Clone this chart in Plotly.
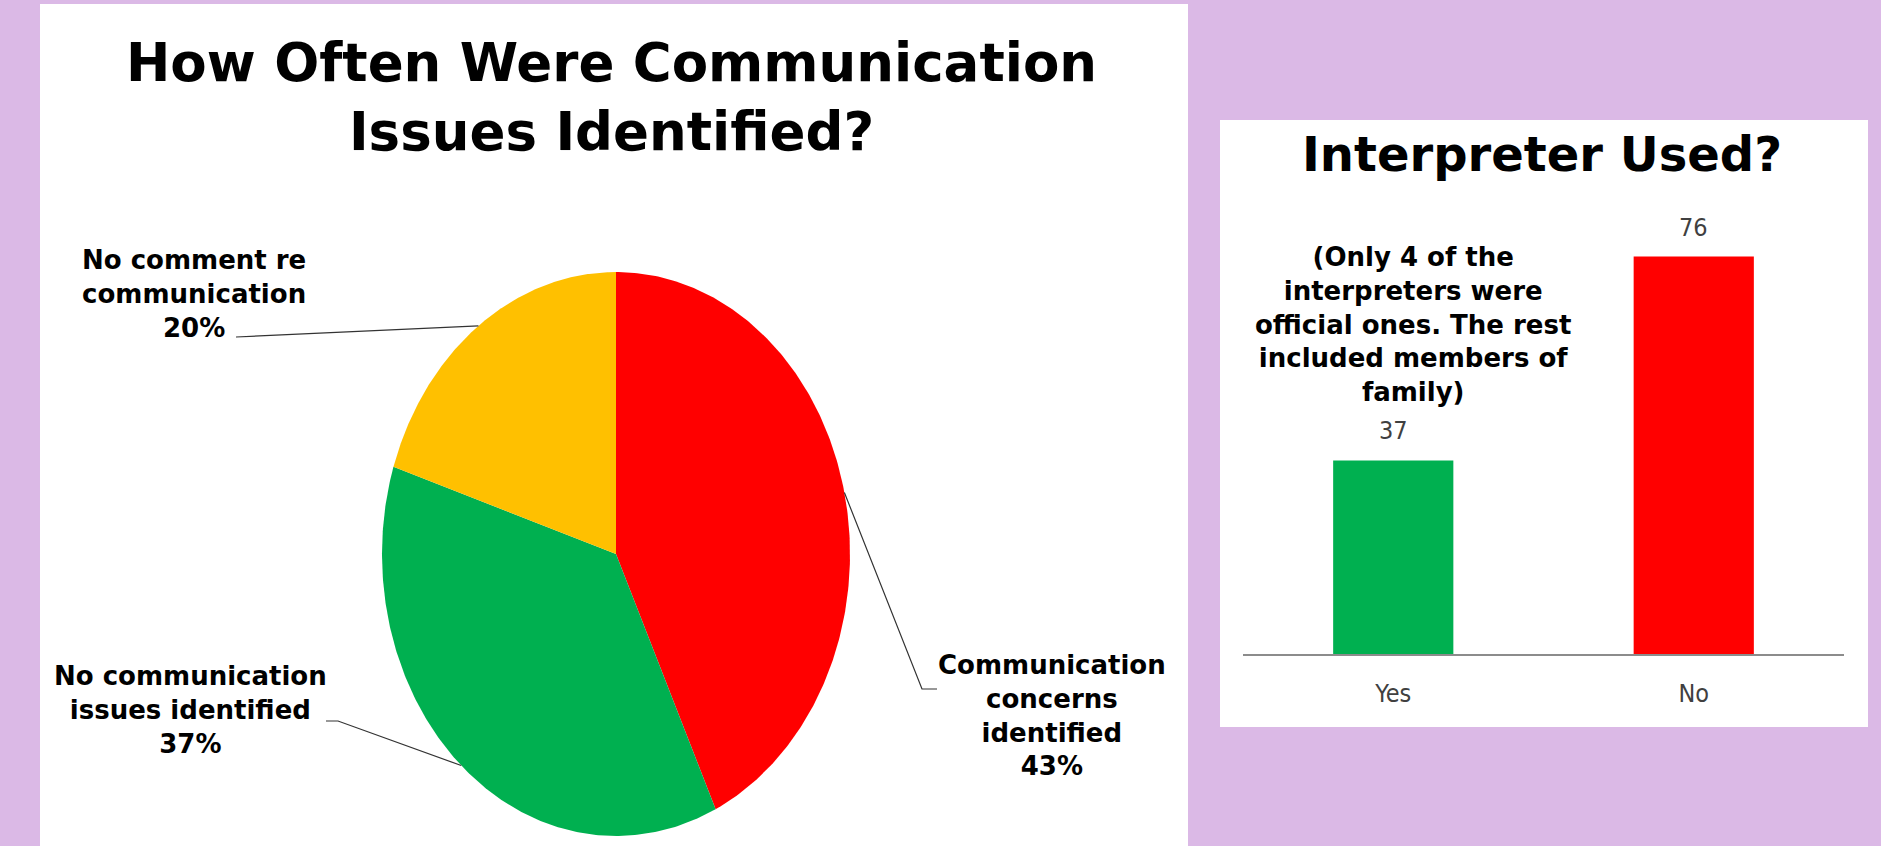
import numpy as np
import plotly.graph_objects as go

# ---- data ----
pie_labels = ["Communication<br>concerns<br>identified",
              "No communication<br>issues identified",
              "No comment re<br>communication"]
pie_pct = [43, 37, 20]
pie_colors = ["#FF0000", "#00B050", "#FFC000"]

bar_cats = ["Yes", "No"]
bar_vals = [37, 76]
bar_colors = ["#00B050", "#FF0000"]

W, H = 1881, 846
BG = "#DBB9E6"
BOLD = "DejaVu Sans"
NARROW = "Liberation Sans Narrow, DejaVu Sans Condensed, sans-serif"

# pie geometry (pixel-space axis), drawn as an ellipse
CX, CY, RX, RY = 616, 554, 234, 282


def px(x):
    return x / W


def py(y):
    return 1 - y / H


def edge(theta_deg):
    t = np.radians(theta_deg)
    return CX + RX * np.sin(t), CY - RY * np.cos(t)


fig = go.Figure()

# pie slices, clockwise from 12 o'clock
start = 0.0
mids = []
for lab, pct, col in zip(pie_labels, pie_pct, pie_colors):
    sweep = 360.0 * pct / sum(pie_pct)
    th = np.linspace(start, start + sweep, 240)
    t = np.radians(th)
    xs = np.concatenate([[CX], CX + RX * np.sin(t), [CX]])
    ys = np.concatenate([[CY], CY - RY * np.cos(t), [CY]])
    fig.add_trace(go.Scatter(x=xs, y=ys, fill="toself", fillcolor=col,
                             mode="lines", line=dict(width=0, color=col),
                             hoverinfo="skip", showlegend=False,
                             xaxis="x", yaxis="y"))
    mids.append(start + sweep / 2)
    start += sweep

# leader lines: from each slice's mid-angle on the rim to its label
label_pos = [(1052, 715), (190, 710), (194, 294)]
leader_tail = [[(922, 689), (937, 689)],
               [(338, 721), (326, 721)],
               [(236, 337)]]
for m, tail in zip(mids, leader_tail):
    ex, ey = edge(m)
    xs = [ex] + [p[0] for p in tail]
    ys = [ey] + [p[1] for p in tail]
    fig.add_trace(go.Scatter(x=xs, y=ys, mode="lines",
                             line=dict(color="#333333", width=1.2),
                             hoverinfo="skip", showlegend=False,
                             xaxis="x", yaxis="y"))

# bar chart
fig.add_trace(go.Bar(x=bar_cats, y=bar_vals, marker=dict(color=bar_colors, line=dict(width=0)),
                     width=0.4, hoverinfo="skip", showlegend=False,
                     xaxis="x2", yaxis="y2"))

annotations = []
# pie labels
for lab, pct, (lx, ly) in zip(pie_labels, pie_pct, label_pos):
    annotations.append(dict(x=px(lx), y=py(ly), xref="paper", yref="paper",
                            text=f"{lab}<br>{pct}%", showarrow=False,
                            xanchor="center", yanchor="middle", align="center",
                            font=dict(family=BOLD, size=26, color="#000000", weight="bold")))
# bar value labels
for c, v in zip(bar_cats, bar_vals):
    annotations.append(dict(x=c, y=v, xref="x2", yref="y2", text=str(v),
                            showarrow=False, yanchor="bottom", yshift=13,
                            font=dict(family=NARROW, size=25, color="#404040")))
# titles and note
annotations += [
    dict(x=px(611), y=py(97), xref="paper", yref="paper",
         text="How Often Were Communication<br>Issues Identified?", showarrow=False,
         xanchor="center", yanchor="middle", align="center",
         font=dict(family=BOLD, size=53, color="#000000", weight="bold")),
    dict(x=px(1542), y=py(154), xref="paper", yref="paper",
         text="Interpreter Used?", showarrow=False,
         xanchor="center", yanchor="middle",
         font=dict(family=BOLD, size=48, color="#000000", weight="bold")),
    dict(x=px(1413), y=py(324), xref="paper", yref="paper",
         text="(Only 4 of the<br>interpreters were<br>official ones. The rest<br>included members of<br>family)",
         showarrow=False, xanchor="center", yanchor="middle", align="center",
         font=dict(family=BOLD, size=26, color="#000000", weight="bold")),
]

shapes = [
    dict(type="rect", xref="paper", yref="paper", x0=px(40), x1=px(1188), y0=0, y1=py(4),
         fillcolor="white", line=dict(width=0), layer="below"),
    dict(type="rect", xref="paper", yref="paper", x0=px(1220), x1=px(1868), y0=py(727), y1=py(120),
         fillcolor="white", line=dict(width=0), layer="below"),
]

base_px = 654
ppu = 5.23
ymax = 90
fig.update_layout(
    width=W, height=H, margin=dict(l=0, r=0, t=0, b=0),
    paper_bgcolor=BG, plot_bgcolor="rgba(0,0,0,0)",
    showlegend=False, shapes=shapes, annotations=annotations,
    xaxis=dict(domain=[0, 1], range=[0, W], visible=False, fixedrange=True),
    yaxis=dict(domain=[0, 1], range=[H, 0], visible=False, fixedrange=True),
    xaxis2=dict(domain=[px(1243), px(1844)], range=[-0.5, 1.5], anchor="y2",
                showline=True, linecolor="#8C8C8C", linewidth=2, showgrid=False,
                zeroline=False, ticks="", ticklabelstandoff=16,
                tickfont=dict(family=NARROW, size=25, color="#404040")),
    yaxis2=dict(domain=[py(base_px), py(base_px - ppu * ymax)], range=[0, ymax],
                anchor="x2", visible=False, showgrid=False, zeroline=False),
)

fig.write_html("out.html")
